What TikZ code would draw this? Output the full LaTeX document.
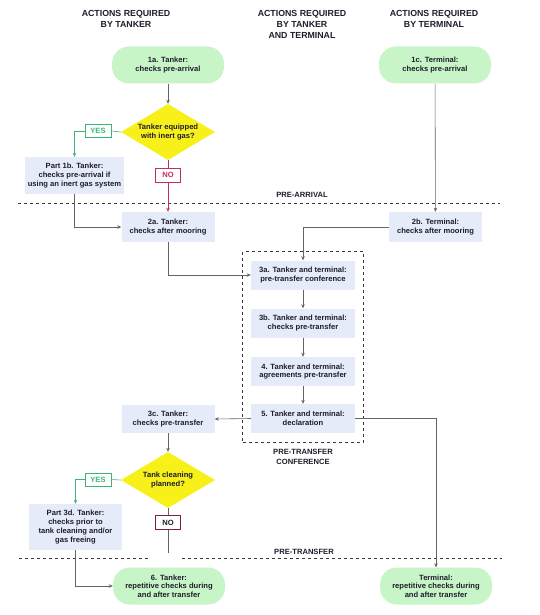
\documentclass[tikz,border=0pt]{standalone}
\usepackage{fontspec}
\setmainfont{Liberation Sans}
\usetikzlibrary{shapes.geometric,arrows.meta,fit}
\definecolor{gfill}{RGB}{200,245,200}
\definecolor{bfill}{RGB}{230,235,249}
\definecolor{yfill}{RGB}{247,240,25}
\definecolor{ygreen}{RGB}{60,180,120}
\definecolor{nred}{RGB}{195,45,95}
\definecolor{nmaroon}{RGB}{120,35,70}
\definecolor{ink}{RGB}{30,30,45}
\definecolor{lgray}{RGB}{100,100,100}
\definecolor{dgray}{RGB}{55,55,55}
\tikzset{
  base/.style={font=\fontsize{7.6}{8.7}\selectfont\bfseries, text=ink, align=center, inner sep=1pt},
  greenbox/.style={base, fill=gfill, rounded corners=17pt, minimum width=112pt, minimum height=37pt},
  bluebox/.style={base, fill=bfill, minimum width=93pt, minimum height=30pt},
  decision/.style={base, diamond, fill=yfill, aspect=1.68, minimum width=94pt, minimum height=56pt, inner sep=0pt},
  yesbox/.style={font=\fontsize{7.6}{8.7}\selectfont\bfseries, text=ygreen, draw=ygreen, fill=white, line width=0.8pt, minimum width=26pt, minimum height=13pt, inner sep=0pt},
  nobox/.style={font=\fontsize{7.6}{8.7}\selectfont\bfseries, text=nred, draw=nred, fill=white, line width=0.8pt, minimum width=25pt, minimum height=14pt, inner sep=0pt},
  nobox2/.style={nobox, text=ink, draw=nmaroon},
  hdr/.style={font=\fontsize{8.8}{11}\selectfont\bfseries, text=ink, align=center, inner sep=0pt},
  phase/.style={font=\fontsize{7.6}{9.5}\selectfont\bfseries, text=ink, align=center, inner sep=0pt},
  tip/.style={-{Stealth[length=4pt,width=3.5pt]}},
  conn/.style={draw=lgray, line width=0.6pt, tip},
  plain/.style={draw=lgray, line width=0.6pt},
  yesline/.style={draw=ygreen, line width=0.6pt},
  noline/.style={draw=nred, line width=0.6pt},
  phaseline/.style={draw=dgray, line width=0.8pt, dash pattern=on 3pt off 3pt},
}
\begin{document}
\begin{tikzpicture}[x=1pt,y=-1pt]
\useasboundingbox (0,0) rectangle (539,615);
\fill[white] (0,0) rectangle (539,615);

% headers
\node[hdr] (h1) at (126,18.5) {ACTIONS REQUIRED\\BY TANKER};
\node[hdr] (h2) at (302,24) {ACTIONS REQUIRED\\BY TANKER\\AND TERMINAL};
\node[hdr] (h3) at (434,18.5) {ACTIONS REQUIRED\\BY TERMINAL};

% pre-arrival
\node[greenbox] (n1a) at (168,65) {1a. Tanker:\\checks pre-arrival};
\node[greenbox] (n1c) at (435,65) {1c. Terminal:\\checks pre-arrival};
\node[decision] (d1) at (168,132) {Tanker equipped\\with inert gas?};
\node[yesbox] (y1) at (98,131) {YES};
\node[bluebox, minimum width=99pt, minimum height=37pt] (n1b) at (74.5,175.5) {Part 1b. Tanker:\\checks pre-arrival if\\using an inert gas system};
\node[nobox] (no1) at (168,175) {NO};

\coordinate (pa1) at (18,203);
\coordinate (pa2) at (500,203);
\draw[phaseline] (pa1) -- (pa2);
\node[phase] (lpa) at (302,195) {PRE-ARRIVAL};

\node[bluebox] (n2a) at (168,227) {2a. Tanker:\\checks after mooring};
\node[bluebox] (n2b) at (435.5,227) {2b. Terminal:\\checks after mooring};

% conference
\node[bluebox, minimum width=104pt, minimum height=29pt] (n3a) at (303,275) {3a. Tanker and terminal:\\pre-transfer conference};
\node[bluebox, minimum width=104pt, minimum height=29pt] (n3b) at (303,323) {3b. Tanker and terminal:\\checks pre-transfer};
\node[bluebox, minimum width=104pt, minimum height=29pt] (n4) at (303,371.5) {4. Tanker and terminal:\\agreements pre-transfer};
\node[bluebox, minimum width=104pt, minimum height=29pt] (n5) at (303,418.5) {5. Tanker and terminal:\\declaration};
\node[fit=(n3a)(n5), draw=dgray, line width=0.8pt, dash pattern=on 3pt off 3pt, inner xsep=8pt, inner ysep=9pt] (conf) {};
\node[phase] (lconf) at (303,457) {PRE-TRANSFER\\CONFERENCE};

\node[bluebox, minimum height=28pt] (n3c) at (168,419) {3c. Tanker:\\checks pre-transfer};
\node[decision] (d2) at (168,480) {Tank cleaning\\planned?};
\node[yesbox] (y2) at (98,479.5) {YES};
\node[bluebox, minimum height=46pt] (n3d) at (75.5,527) {Part 3d. Tanker:\\checks prior to\\tank cleaning and/or\\gas freeing};
\node[nobox2] (no2) at (168,522.5) {NO};
\coordinate (noend) at (168,553);

\coordinate (pt1) at (19,558);
\coordinate (pt2) at (148,558);
\coordinate (pt3) at (182,558);
\coordinate (pt4) at (502,558);
\draw[phaseline] (pt1) -- (pt2);
\draw[phaseline] (pt3) -- (pt4);
\node[phase] (lpt) at (304,552) {PRE-TRANSFER};

\node[greenbox] (n6) at (169,586) {6. Tanker:\\repetitive checks during\\and after transfer};
\node[greenbox] (nt) at (436,586) {Terminal:\\repetitive checks during\\and after transfer};

% connectors
\draw[conn] (n1a) -- (d1);
\draw[yesline] (d1.west) -- (y1.east);
\draw[yesline, tip] (y1.west) -| (n1b.north);
\draw[noline] (d1.south) -- (no1.north);
\draw[noline, tip] (no1.south) -- (n2a.north);
\draw[conn] (n1c) -- (n2b);
\draw[conn] (n1b.south) |- (n2a.west);
\draw[conn] (n2b.west) -| (n3a.north);
\draw[conn] (n2a.south) |- (n3a.west);
\draw[conn] (n3a) -- (n3b);
\draw[conn] (n3b) -- (n4);
\draw[conn] (n4) -- (n5);
\draw[conn] (n5.west) -- (n3c.east);
\draw[conn] (n5.east) -| (nt.north);
\draw[conn] (n3c) -- (d2);
\draw[yesline] (d2.west) -- (y2.east);
\draw[yesline, tip] (y2.west) -| (n3d.north);
\draw[plain] (d2.south) -- (no2.north);
\draw[plain] (no2.south) -- (noend);
\draw[conn] (n3d.south) |- (n6.west);
\end{tikzpicture}
\end{document}
